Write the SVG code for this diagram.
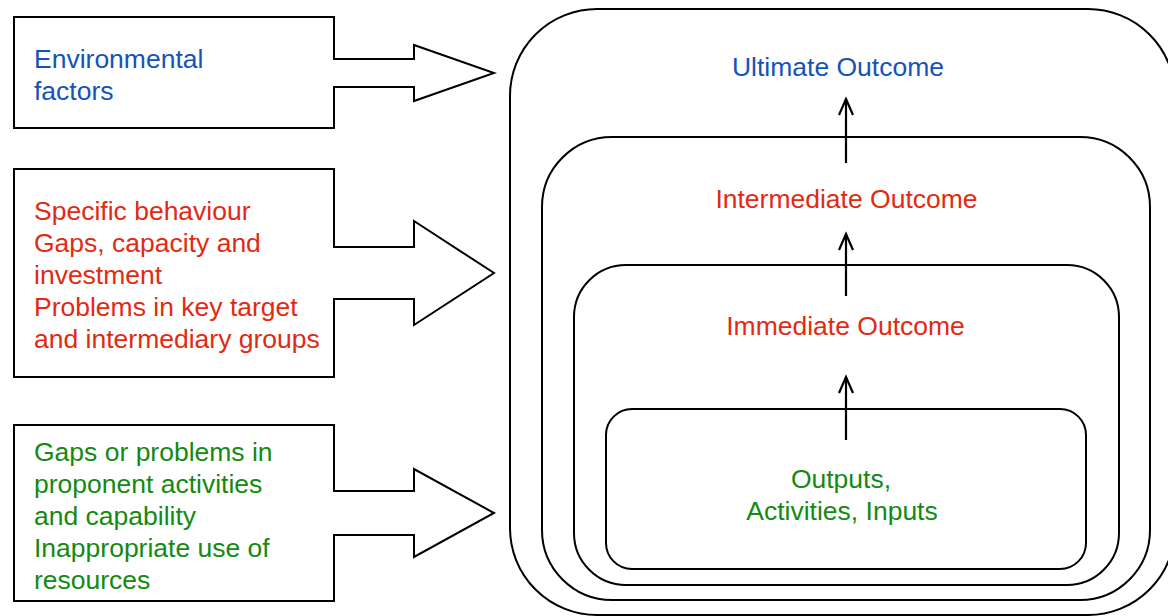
<svg xmlns="http://www.w3.org/2000/svg" width="1168" height="616" viewBox="0 0 1168 616">
<defs>
<style>
.box{fill:#ffffff;stroke:#000000;stroke-width:2;stroke-linejoin:miter}
.ring{fill:none;stroke:#000000;stroke-width:2}
.conn{fill:none;stroke:#000000;stroke-width:2.2}
.head{fill:none;stroke:#000000;stroke-width:2.2;stroke-linejoin:miter}
text{font-family:"Liberation Sans",Arial,sans-serif;font-size:26.5px}
.blue{fill:#1553b8}
.red{fill:#e22a12}
.green{fill:#138a12}
.mid{text-anchor:middle}
</style>
</defs>
<rect width="1168" height="616" fill="#ffffff"/>
<g id="ultimate-outcome">
<rect class="ring" x="510" y="9" width="665" height="606" rx="87" ry="87"/>
<text class="blue mid" x="838" y="76">Ultimate Outcome</text>
</g>
<g id="intermediate-outcome">
<rect class="ring" x="542" y="137" width="608" height="463" rx="70" ry="70"/>
<text class="red mid" x="846.5" y="208">Intermediate Outcome</text>
</g>
<g id="immediate-outcome">
<rect class="ring" x="574" y="265" width="545" height="320" rx="52" ry="52"/>
<text class="red mid" x="845.5" y="335">Immediate Outcome</text>
</g>
<g id="outputs">
<rect class="ring" x="606" y="409" width="480" height="160" rx="26" ry="26"/>
<text class="green mid" x="841" y="488">Outputs,</text>
<text class="green mid" x="842" y="520">Activities, Inputs</text>
</g>
<g id="environmental-factors">
<path class="box" d="M14,17 H334 V59 H414 V45 L494,73 L414,101 V87 H334 V128 H14 Z"/>
<text class="blue" x="34" y="68">Environmental</text>
<text class="blue" x="34" y="100">factors</text>
</g>
<g id="specific-behaviour">
<path class="box" d="M14,169 H334 V247 H414 V221 L494,273 L414,325 V299 H334 V377 H14 Z"/>
<text class="red" x="34" y="220">Specific behaviour</text>
<text class="red" x="34" y="252">Gaps, capacity and</text>
<text class="red" x="34" y="284">investment</text>
<text class="red" x="34" y="316">Problems in key target</text>
<text class="red" x="34" y="348">and intermediary groups</text>
</g>
<g id="proponent-gaps">
<path class="box" d="M14,425 H334 V491 H414 V469 L494,513 L414,557 V535 H334 V601 H14 Z"/>
<text class="green" x="34" y="461">Gaps or problems in</text>
<text class="green" x="34" y="493">proponent activities</text>
<text class="green" x="34" y="525">and capability</text>
<text class="green" x="34" y="557">Inappropriate use of</text>
<text class="green" x="34" y="589">resources</text>
</g>
<g id="connectors">
<path class="conn" d="M846,163 V99"/>
<path class="head" d="M839,115 L846,99 L853,115"/>
<path class="conn" d="M846,296 V234"/>
<path class="head" d="M839,250 L846,234 L853,250"/>
<path class="conn" d="M846,440 V377"/>
<path class="head" d="M839,393 L846,377 L853,393"/>
</g>
</svg>
